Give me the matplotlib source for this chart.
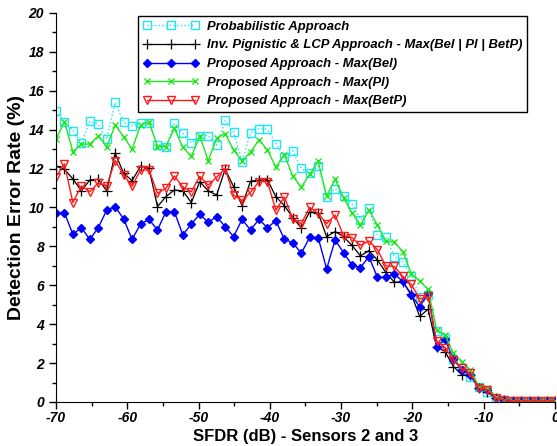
import numpy as np
import matplotlib
matplotlib.use("Agg")
import matplotlib.pyplot as plt
from matplotlib.ticker import MultipleLocator

plt.rcParams['font.family'] = ['Liberation Sans', 'DejaVu Sans']
plt.rcParams['axes.unicode_minus'] = False

# SFDR values (dB), 60 evenly spaced points
sfdr = np.linspace(-70, 0, 60)

tail = [0.1, 0.05, 0.05, 0.05, 0.05, 0.05, 0.05]

probabilistic = [14.95, 14.41, 13.95, 13.32, 14.43, 14.28, 13.50, 15.40, 14.38, 14.19,
                 14.33, 14.36, 13.21, 13.13, 14.33, 13.81, 13.33, 13.69, 13.70, 13.21,
                 14.48, 13.90, 12.36, 13.85, 14.05, 14.02, 13.28, 12.61, 12.91, 12.01,
                 11.76, 12.13, 10.56, 10.96, 10.58, 10.17, 9.38, 9.97, 8.59, 8.50,
                 7.47, 7.20, 6.50, 5.40, 5.50, 3.65, 3.30, 2.20, 1.75, 1.30,
                 0.75, 0.50, 0.15] + tail

inv_pignistic = [12.13, 11.96, 11.47, 10.85, 11.41, 11.45, 10.85, 12.79, 11.76, 11.38,
                 12.13, 12.01, 10.04, 10.56, 10.90, 10.85, 10.25, 11.33, 10.85, 10.64,
                 11.97, 11.07, 10.10, 11.35, 11.40, 11.43, 10.55, 10.10, 9.48, 8.95,
                 9.78, 9.72, 8.50, 8.76, 8.50, 8.05, 7.51, 7.78, 7.30, 6.66,
                 6.16, 6.18, 5.55, 4.40, 4.77, 2.84, 2.59, 1.82, 1.39, 1.39,
                 0.70, 0.53, 0.19] + tail

max_bel = [9.70, 9.73, 8.62, 8.96, 8.36, 8.96, 9.87, 10.04, 9.41, 8.36,
           9.15, 9.39, 8.84, 9.78, 9.78, 8.59, 9.15, 9.65, 9.24, 9.53,
           9.01, 8.50, 9.39, 8.84, 9.39, 8.96, 9.32, 8.36, 8.19, 7.64,
           8.47, 8.45, 6.84, 8.33, 7.68, 7.04, 6.91, 7.47, 6.41, 6.41,
           6.58, 6.20, 5.50, 4.90, 5.60, 2.84, 3.22, 2.19, 1.65, 1.39,
           0.70, 0.62, 0.19] + tail

max_pl = [13.50, 14.41, 12.87, 13.26, 13.26, 13.68, 13.13, 14.24, 13.64, 12.99,
          14.24, 14.41, 13.13, 13.13, 14.07, 13.10, 12.63, 13.66, 12.41, 13.56,
          13.80, 12.96, 12.38, 12.85, 13.47, 12.96, 12.07, 12.72, 11.60, 11.05,
          11.70, 12.38, 10.58, 11.45, 10.50, 9.72, 9.10, 9.88, 9.10, 8.26,
          8.22, 7.73, 6.60, 6.22, 5.80, 3.70, 3.44, 2.50, 2.07, 1.65,
          0.79, 0.70, 0.27] + tail

max_betp = [11.58, 12.24, 10.25, 11.11, 10.81, 11.27, 11.11, 12.41, 11.67, 11.11,
            11.93, 11.93, 10.73, 10.99, 11.62, 11.05, 10.81, 11.60, 11.15, 11.56,
            12.00, 10.64, 10.36, 10.78, 11.33, 11.33, 9.86, 10.54, 9.40, 9.17,
            10.00, 9.70, 9.17, 9.61, 8.55, 8.45, 8.05, 8.28, 7.83, 7.00,
            6.97, 6.46, 6.05, 5.30, 5.41, 3.15, 2.79, 2.17, 1.73, 1.47,
            0.70, 0.63, 0.21] + tail

labels = ['Probabilistic Approach',
          'Inv. Pignistic & LCP Approach - Max(Bel | Pl | BetP)',
          'Proposed Approach - Max(Bel)',
          'Proposed Approach - Max(Pl)',
          'Proposed Approach - Max(BetP)']

fig = plt.figure(figsize=(5.57, 4.46), dpi=100)
ax = fig.add_axes([0.1005, 0.0987, 0.8959, 0.8722])

ax.plot(sfdr, probabilistic, color='#1ee6f5', ls=':', lw=1, marker='s', ms=5.5,
        mfc='none', mec='#1ee6f5', mew=1, label=labels[0])
ax.plot(sfdr, inv_pignistic, color='black', lw=0.9, marker='+', ms=6.5, mew=0.9,
        label=labels[1])
ax.plot(sfdr, max_bel, color='#0000ff', lw=1, marker='D', ms=3.8, mec='#0000ff',
        mfc='#0000ff', label=labels[2])
ax.plot(sfdr, max_pl, color='#1ee81e', lw=1, marker='x', ms=5, mew=1, label=labels[3])
ax.plot(sfdr, max_betp, color='#ff1a1a', lw=1, marker='v', ms=6, mfc='none',
        mec='#ff1a1a', mew=1, label=labels[4])

ax.set_xlim(-70, 0)
ax.set_ylim(0, 20)
ax.xaxis.set_major_locator(MultipleLocator(10))
ax.xaxis.set_minor_locator(MultipleLocator(5))
ax.yaxis.set_major_locator(MultipleLocator(2))
ax.yaxis.set_minor_locator(MultipleLocator(1))
ax.spines['top'].set_visible(False)
ax.spines['right'].set_visible(False)
ax.tick_params(which='major', direction='out', length=5, width=1)
ax.tick_params(which='minor', direction='out', length=3, width=1)
ax.tick_params(axis='x', which='major', pad=1.5)
for t in ax.get_xticklabels() + ax.get_yticklabels():
    t.set_fontweight('bold')
    t.set_fontstyle('italic')
    t.set_fontsize(10)

ax.set_xlabel('SFDR (dB) - Sensors 2 and 3', fontsize=12, fontweight='bold', labelpad=3)
ax.set_ylabel('Detection Error Rate (%)', fontsize=14, fontweight='bold', labelpad=3)

leg = ax.legend(loc='upper right', bbox_to_anchor=(0.944, 0.992), numpoints=3,
                handlelength=4.3, handletextpad=0.6, fancybox=False, shadow=False,
                framealpha=1, edgecolor='black', borderaxespad=0, labelspacing=0.5,
                borderpad=0.35, prop={'weight': 'bold', 'style': 'italic', 'size': 9.4})
leg.get_frame().set_linewidth(1)

fig.savefig('out.png', dpi=100)
